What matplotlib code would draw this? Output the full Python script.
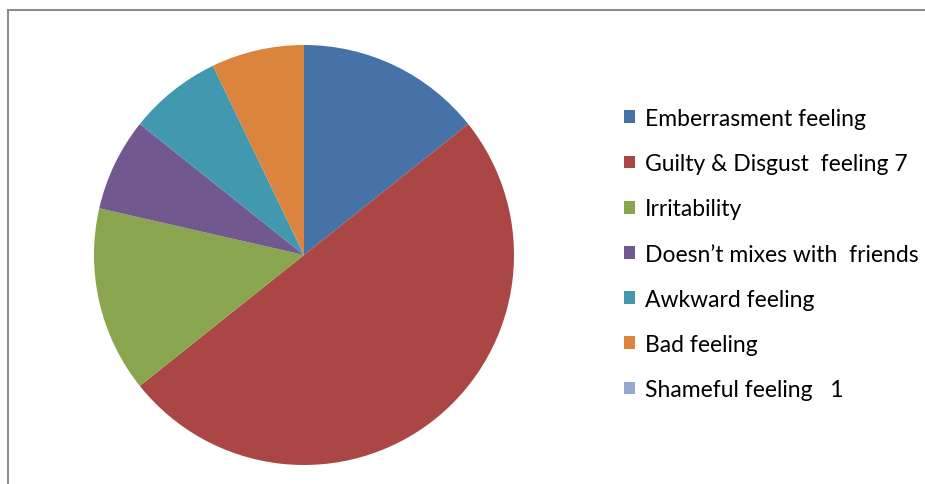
import matplotlib.pyplot as plt
from matplotlib.patches import Rectangle

labels = ['Emberrasment feeling', 'Guilty & Disgust  feeling 7', 'Irritability',
          'Doesn\u2019t mixes with  friends', 'Awkward feeling', 'Bad feeling',
          'Shameful feeling   1']
values = [2, 7, 2, 1, 1, 1, 0]
colors = ['#4672A8', '#AA4744', '#89A54E', '#71588F', '#4198AF', '#DB843D', '#93A9CF']

plt.rcParams['font.family'] = ['Lato', 'DejaVu Sans']

fig = plt.figure(figsize=(9.25, 4.85), dpi=100)
W, H = 925, 485

# chart frame (grey border, runs off right/bottom)
fig.patches.append(Rectangle((8 / W, -0.1), 1.2, (H - 11) / H + 0.1,
                             transform=fig.transFigure, fill=False,
                             edgecolor='#8c8c8c', linewidth=1.5))

ax = fig.add_axes([(304 - 210) / W, (H - 466) / H, 420 / W, 420 / H])
wedges, _ = ax.pie(values, colors=colors, startangle=90, counterclock=False,
                   radius=1, wedgeprops=dict(linewidth=0))
ax.set_xlim(-1, 1)
ax.set_ylim(-1, 1)
ax.set_aspect('equal')
ax.axis('off')

fig.legend(wedges, labels, loc='upper left', bbox_to_anchor=(624 / W, (H - 109) / H),
           frameon=False, fontsize=16.5, handlelength=0.48, handleheight=0.48,
           handletextpad=0.42, labelspacing=1.055, borderpad=0, borderaxespad=0)

fig.savefig('out.png', dpi=100)
